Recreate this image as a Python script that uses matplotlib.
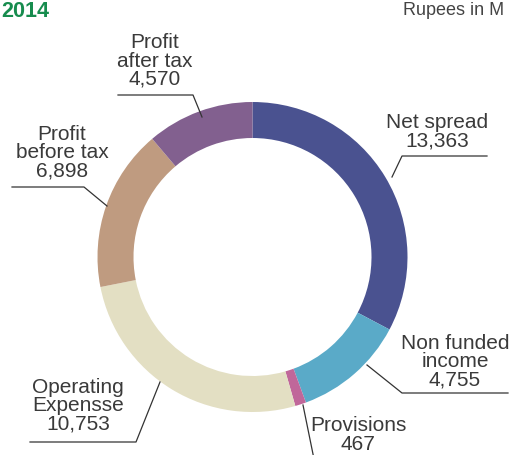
import matplotlib.pyplot as plt

# Rupees in M, 2014
labels = ["Net spread", "Non funded\nincome", "Provisions", "Operating\nExpensse",
          "Profit\nbefore tax", "Profit\nafter tax"]
values = [13363, 4755, 467, 10753, 6898, 4570]
colors = ["#4a5290", "#5aaac8", "#c0679a", "#e3dfc3", "#bf9b80", "#82608f"]

W, H = 514, 456
fig = plt.figure(figsize=(W / 100, H / 100), dpi=100)
ax = fig.add_axes([0, 0, 1, 1])

cx, cy, R = 252.5, H - 258, 155
ax.pie(values, colors=colors, startangle=90, counterclock=False,
       center=(cx, cy), radius=R, wedgeprops=dict(width=36, linewidth=0))
ax.set_xlim(0, W)
ax.set_ylim(0, H)
ax.set_aspect("equal")
ax.axis("off")

plt.rcParams["font.family"] = "Liberation Sans"
tc = "#3a3a3a"

# label text position (pixel, top-origin) and leader line points
layout = [
    ((437, 132), [(487, 157), (402, 157), (392, 178)]),
    ((455, 362), [(508, 394), (402, 394), (367, 366)]),
    ((358, 435), [(303, 406), (314, 460)]),
    ((78, 406), [(30, 443), (136, 443), (160, 383)]),
    ((62, 153), [(12, 188), (84, 188), (107, 207)]),
    ((155, 61), [(118, 96), (193, 96), (202, 118)]),
]

for lab, v, ((tx, ty), pts) in zip(labels, values, layout):
    ax.text(tx, H - ty, lab + "\n" + f"{v:,}", ha="center", va="center",
            fontsize=15, color=tc, linespacing=0.95)
    ax.plot([p[0] for p in pts], [H - p[1] for p in pts], color="#333333",
            linewidth=0.9, clip_on=False)

ax.text(1, H - 11, "2014", fontsize=15.5, fontweight="bold", color="#178c4e",
        ha="left", va="center")
ax.text(403, H - 10, "Rupees in M", fontsize=13, color="#444444",
        ha="left", va="center")

fig.savefig("out.png", dpi=100)
